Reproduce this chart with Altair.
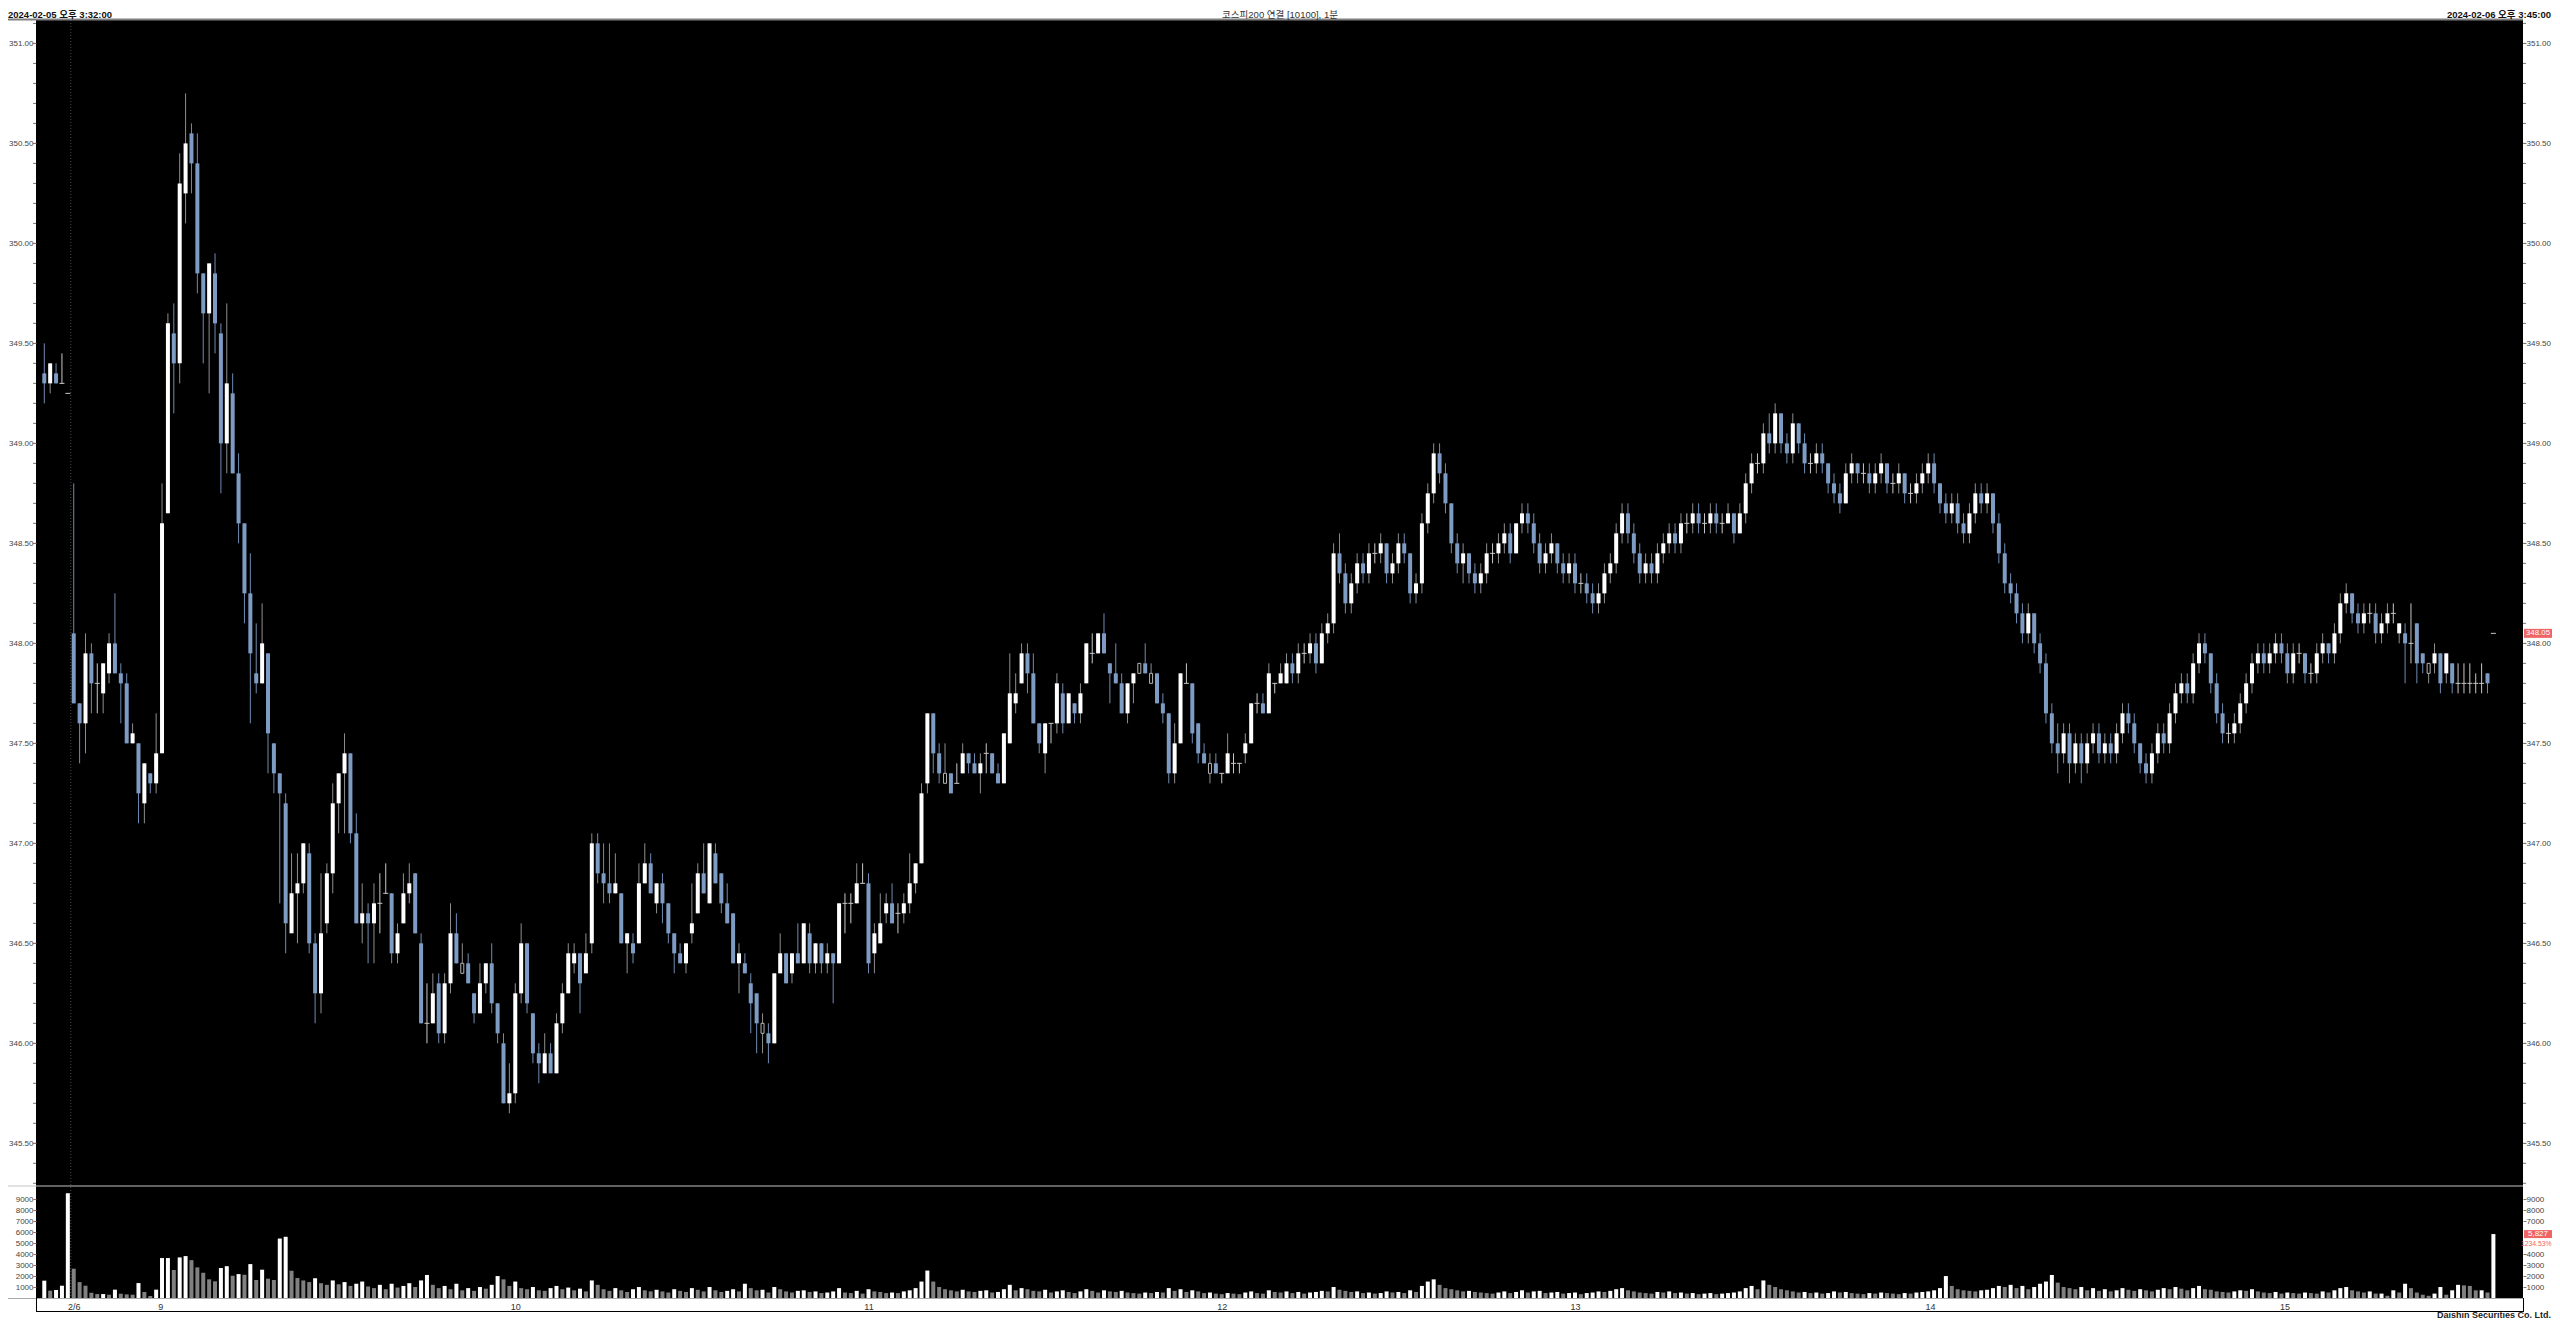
import altair as alt
import pandas as pd

# ---------------- data ----------------
opens = [
    349.35, 349.30, 349.35, 349.30, 349.25, 348.05, 347.70, 347.60, 347.95, 347.80,
    347.75, 347.85, 348.00, 347.85, 347.80, 347.50, 347.50, 347.20, 347.35, 347.30,
    347.45, 348.65, 349.55, 349.40, 350.25, 350.55, 350.40, 349.85, 349.65, 349.85,
    349.55, 349.00, 349.25, 348.85, 348.60, 348.25, 347.85, 347.80, 347.95, 347.50,
    347.35, 347.20, 346.55, 346.75, 346.80, 346.95, 346.50, 346.25, 346.60, 346.85,
    347.20, 347.35, 347.45, 347.05, 346.60, 346.65, 346.60, 346.70, 346.75, 346.75,
    346.45, 346.60, 346.75, 346.85, 346.50, 346.10, 346.10, 346.30, 346.05, 346.30,
    346.55, 346.35, 346.40, 346.25, 346.15, 346.30, 346.40, 346.20, 346.00, 345.70,
    345.75, 346.25, 346.50, 346.15, 345.95, 345.85, 345.95, 345.85, 346.10, 346.25,
    346.40, 346.45, 346.35, 346.50, 347.00, 346.85, 346.80, 346.75, 346.75, 346.50,
    346.50, 346.50, 346.80, 346.90, 346.70, 346.80, 346.70, 346.55, 346.45, 346.40,
    346.55, 346.65, 346.85, 346.70, 346.95, 346.85, 346.70, 346.65, 346.40, 346.40,
    346.30, 346.25, 346.10, 346.05, 346.00, 346.35, 346.45, 346.35, 346.45, 346.40,
    346.55, 346.40, 346.50, 346.40, 346.45, 346.40, 346.70, 346.70, 346.70, 346.80,
    346.80, 346.45, 346.50, 346.65, 346.70, 346.65, 346.65, 346.70, 346.80, 346.90,
    347.30, 347.65, 347.45, 347.35, 347.35, 347.30, 347.35, 347.45, 347.40, 347.35,
    347.45, 347.45, 347.35, 347.30, 347.50, 347.70, 347.80, 347.95, 347.85, 347.60,
    347.45, 347.60, 347.60, 347.75, 347.60, 347.70, 347.65, 347.80, 347.95, 347.95,
    348.05, 347.90, 347.85, 347.80, 347.65, 347.80, 347.85, 347.90, 347.85, 347.85,
    347.70, 347.65, 347.35, 347.50, 347.80, 347.80, 347.60, 347.45, 347.40, 347.40,
    347.35, 347.35, 347.40, 347.40, 347.45, 347.50, 347.70, 347.70, 347.65, 347.80,
    347.80, 347.80, 347.90, 347.85, 347.95, 347.95, 348.00, 347.90, 348.05, 348.10,
    348.45, 348.35, 348.20, 348.30, 348.40, 348.35, 348.45, 348.45, 348.50, 348.35,
    348.40, 348.50, 348.45, 348.25, 348.30, 348.60, 348.75, 348.95, 348.85, 348.70,
    348.50, 348.40, 348.45, 348.35, 348.30, 348.35, 348.45, 348.45, 348.50, 348.55,
    348.45, 348.60, 348.65, 348.60, 348.50, 348.40, 348.45, 348.50, 348.40, 348.35,
    348.40, 348.30, 348.30, 348.25, 348.20, 348.25, 348.35, 348.40, 348.55, 348.65,
    348.55, 348.45, 348.35, 348.40, 348.35, 348.45, 348.50, 348.55, 348.50, 348.60,
    348.60, 348.65, 348.60, 348.60, 348.65, 348.60, 348.60, 348.65, 348.55, 348.65,
    348.80, 348.90, 348.90, 349.05, 349.00, 349.15, 349.00, 348.95, 349.10, 349.00,
    348.90, 348.90, 348.95, 348.90, 348.80, 348.75, 348.70, 348.85, 348.90, 348.85,
    348.85, 348.80, 348.85, 348.90, 348.80, 348.80, 348.85, 348.75, 348.75, 348.80,
    348.85, 348.90, 348.80, 348.70, 348.65, 348.70, 348.60, 348.55, 348.65, 348.75,
    348.70, 348.75, 348.60, 348.45, 348.30, 348.25, 348.15, 348.05, 348.15, 348.00,
    347.90, 347.65, 347.50, 347.45, 347.55, 347.40, 347.50, 347.40, 347.50, 347.55,
    347.45, 347.50, 347.45, 347.55, 347.65, 347.60, 347.50, 347.40, 347.35, 347.45,
    347.55, 347.50, 347.65, 347.75, 347.80, 347.75, 347.90, 348.00, 347.95, 347.80,
    347.65, 347.55, 347.55, 347.60, 347.70, 347.80, 347.90, 347.95, 347.90, 347.95,
    348.00, 347.95, 347.85, 347.95, 347.95, 347.85, 347.85, 347.95, 348.00, 347.95,
    348.05, 348.20, 348.25, 348.15, 348.10, 348.15, 348.15, 348.05, 348.10, 348.15,
    348.05, 348.05, 348.00, 348.10, 347.95, 347.85, 347.90, 347.95, 347.85, 347.90,
    347.80, 347.80, 347.80, 347.80, 347.80, 347.85, 348.05,
]
highs = [
    349.50, 349.40, 349.40, 349.45, 349.25, 348.80, 347.70, 348.05, 348.00, 347.90,
    347.90, 348.05, 348.25, 347.90, 347.85, 347.60, 347.50, 347.40, 347.35, 347.65,
    348.80, 349.65, 349.70, 350.45, 350.75, 350.60, 350.55, 349.85, 349.90, 349.95,
    349.60, 349.70, 349.35, 348.95, 348.60, 348.45, 348.10, 348.20, 347.95, 347.50,
    347.35, 347.25, 346.95, 346.95, 347.00, 347.00, 346.55, 346.85, 346.90, 347.30,
    347.35, 347.55, 347.45, 347.15, 346.80, 346.70, 346.80, 346.85, 346.90, 346.75,
    346.60, 346.85, 346.90, 346.85, 346.55, 346.30, 346.35, 346.35, 346.35, 346.70,
    346.65, 346.50, 346.45, 346.25, 346.40, 346.40, 346.50, 346.20, 346.05, 345.90,
    346.30, 346.60, 346.50, 346.15, 346.00, 346.05, 346.00, 346.15, 346.30, 346.50,
    346.50, 346.45, 346.55, 347.05, 347.05, 347.00, 347.00, 346.95, 346.75, 346.55,
    346.55, 346.90, 347.00, 346.95, 346.80, 346.85, 346.70, 346.55, 346.50, 346.50,
    346.80, 346.90, 347.00, 347.00, 347.00, 346.85, 346.80, 346.65, 346.50, 346.45,
    346.35, 346.25, 346.15, 346.10, 346.35, 346.55, 346.45, 346.45, 346.60, 346.60,
    346.60, 346.50, 346.50, 346.50, 346.45, 346.70, 346.75, 346.75, 346.90, 346.90,
    346.85, 346.60, 346.75, 346.75, 346.80, 346.70, 346.75, 346.95, 346.90, 347.30,
    347.65, 347.65, 347.50, 347.50, 347.35, 347.40, 347.50, 347.45, 347.45, 347.45,
    347.50, 347.45, 347.40, 347.55, 347.95, 347.85, 348.00, 348.00, 347.95, 347.60,
    347.60, 347.60, 347.85, 347.80, 347.75, 347.70, 347.80, 348.00, 348.05, 348.05,
    348.15, 347.90, 348.00, 347.85, 347.80, 347.85, 347.90, 348.00, 347.90, 347.85,
    347.75, 347.65, 347.60, 347.85, 347.90, 347.80, 347.60, 347.50, 347.45, 347.45,
    347.35, 347.55, 347.45, 347.40, 347.55, 347.70, 347.75, 347.75, 347.90, 347.80,
    347.90, 347.95, 347.95, 348.00, 348.00, 348.05, 348.05, 348.10, 348.15, 348.50,
    348.55, 348.40, 348.35, 348.45, 348.45, 348.50, 348.50, 348.55, 348.50, 348.45,
    348.55, 348.55, 348.45, 348.35, 348.65, 348.80, 349.00, 349.00, 348.90, 348.70,
    348.55, 348.50, 348.45, 348.40, 348.40, 348.50, 348.50, 348.55, 348.60, 348.60,
    348.60, 348.70, 348.70, 348.65, 348.55, 348.50, 348.55, 348.50, 348.45, 348.45,
    348.45, 348.35, 348.35, 348.30, 348.30, 348.40, 348.45, 348.60, 348.70, 348.70,
    348.60, 348.50, 348.45, 348.45, 348.50, 348.55, 348.60, 348.60, 348.65, 348.65,
    348.70, 348.70, 348.65, 348.70, 348.70, 348.65, 348.70, 348.65, 348.70, 348.85,
    348.95, 348.95, 349.10, 349.15, 349.20, 349.15, 349.05, 349.15, 349.10, 349.05,
    348.95, 349.00, 349.00, 348.90, 348.85, 348.80, 348.90, 348.95, 348.90, 348.90,
    348.90, 348.90, 348.95, 348.90, 348.85, 348.90, 348.85, 348.80, 348.85, 348.90,
    348.95, 348.95, 348.80, 348.75, 348.75, 348.75, 348.65, 348.70, 348.80, 348.80,
    348.80, 348.75, 348.65, 348.50, 348.35, 348.30, 348.20, 348.20, 348.15, 348.05,
    347.95, 347.70, 347.60, 347.60, 347.60, 347.55, 347.55, 347.55, 347.60, 347.60,
    347.55, 347.55, 347.60, 347.70, 347.70, 347.65, 347.50, 347.45, 347.50, 347.60,
    347.60, 347.70, 347.80, 347.85, 347.85, 347.95, 348.05, 348.05, 347.95, 347.85,
    347.70, 347.60, 347.65, 347.75, 347.85, 347.95, 348.00, 348.00, 348.00, 348.05,
    348.05, 348.00, 348.00, 348.00, 347.95, 347.90, 348.00, 348.05, 348.00, 348.10,
    348.25, 348.30, 348.25, 348.20, 348.20, 348.20, 348.20, 348.15, 348.20, 348.20,
    348.10, 348.10, 348.20, 348.10, 347.95, 347.90, 348.00, 347.95, 347.95, 347.90,
    347.90, 347.90, 347.90, 347.85, 347.90, 347.85, 348.05,
]
lows = [
    349.20, 349.25, 349.30, 349.30, 349.25, 347.70, 347.40, 347.45, 347.65, 347.65,
    347.65, 347.80, 347.85, 347.60, 347.50, 347.50, 347.10, 347.10, 347.25, 347.25,
    347.45, 348.65, 349.15, 349.30, 350.10, 350.25, 349.75, 349.40, 349.25, 349.45,
    348.75, 348.85, 348.85, 348.50, 348.10, 347.60, 347.75, 347.80, 347.35, 347.25,
    346.70, 346.45, 346.55, 346.50, 346.75, 346.45, 346.10, 346.15, 346.55, 346.75,
    347.05, 347.05, 347.00, 346.60, 346.50, 346.40, 346.40, 346.55, 346.75, 346.40,
    346.40, 346.60, 346.70, 346.55, 346.10, 346.00, 346.10, 346.00, 346.00, 346.25,
    346.40, 346.35, 346.30, 346.10, 346.15, 346.25, 346.15, 346.00, 345.70, 345.65,
    345.70, 346.20, 346.15, 345.90, 345.80, 345.85, 345.85, 345.85, 346.05, 346.25,
    346.35, 346.15, 346.35, 346.45, 346.80, 346.70, 346.70, 346.75, 346.50, 346.35,
    346.40, 346.50, 346.80, 346.75, 346.65, 346.60, 346.50, 346.35, 346.40, 346.35,
    346.50, 346.65, 346.75, 346.70, 346.80, 346.65, 346.60, 346.40, 346.25, 346.35,
    346.05, 345.95, 345.95, 345.90, 346.00, 346.35, 346.30, 346.30, 346.40, 346.40,
    346.35, 346.35, 346.35, 346.35, 346.20, 346.40, 346.55, 346.60, 346.70, 346.80,
    346.35, 346.35, 346.50, 346.60, 346.60, 346.55, 346.60, 346.65, 346.75, 346.90,
    347.25, 347.35, 347.30, 347.30, 347.25, 347.30, 347.35, 347.35, 347.35, 347.25,
    347.35, 347.35, 347.30, 347.30, 347.50, 347.65, 347.80, 347.75, 347.60, 347.45,
    347.35, 347.50, 347.55, 347.55, 347.60, 347.60, 347.60, 347.80, 347.90, 347.95,
    347.95, 347.70, 347.80, 347.65, 347.60, 347.70, 347.85, 347.85, 347.80, 347.70,
    347.60, 347.30, 347.30, 347.50, 347.80, 347.50, 347.40, 347.40, 347.30, 347.35,
    347.30, 347.35, 347.35, 347.35, 347.40, 347.50, 347.65, 347.65, 347.65, 347.75,
    347.80, 347.80, 347.80, 347.80, 347.90, 347.90, 347.85, 347.90, 348.00, 348.05,
    348.30, 348.15, 348.15, 348.25, 348.30, 348.30, 348.40, 348.40, 348.30, 348.30,
    348.35, 348.40, 348.20, 348.20, 348.25, 348.55, 348.70, 348.80, 348.65, 348.45,
    348.35, 348.30, 348.30, 348.25, 348.25, 348.30, 348.40, 348.40, 348.45, 348.40,
    348.45, 348.55, 348.55, 348.45, 348.35, 348.35, 348.40, 348.35, 348.30, 348.30,
    348.25, 348.25, 348.20, 348.15, 348.15, 348.20, 348.30, 348.35, 348.50, 348.50,
    348.40, 348.30, 348.30, 348.30, 348.30, 348.40, 348.45, 348.45, 348.45, 348.55,
    348.55, 348.55, 348.55, 348.55, 348.55, 348.55, 348.60, 348.50, 348.55, 348.60,
    348.75, 348.85, 348.85, 348.95, 348.95, 348.95, 348.90, 348.90, 348.95, 348.85,
    348.85, 348.85, 348.85, 348.75, 348.70, 348.65, 348.70, 348.80, 348.80, 348.80,
    348.75, 348.75, 348.80, 348.75, 348.75, 348.75, 348.70, 348.70, 348.70, 348.75,
    348.80, 348.75, 348.65, 348.60, 348.60, 348.55, 348.50, 348.50, 348.60, 348.65,
    348.65, 348.55, 348.40, 348.25, 348.20, 348.10, 348.00, 348.00, 347.95, 347.85,
    347.60, 347.45, 347.35, 347.40, 347.30, 347.35, 347.30, 347.35, 347.45, 347.40,
    347.40, 347.40, 347.40, 347.50, 347.55, 347.45, 347.35, 347.30, 347.30, 347.40,
    347.45, 347.45, 347.60, 347.70, 347.70, 347.70, 347.85, 347.90, 347.75, 347.60,
    347.50, 347.50, 347.50, 347.55, 347.65, 347.75, 347.85, 347.85, 347.85, 347.90,
    347.90, 347.80, 347.80, 347.90, 347.80, 347.80, 347.80, 347.90, 347.90, 347.90,
    348.00, 348.15, 348.10, 348.05, 348.05, 348.10, 348.00, 348.00, 348.05, 348.10,
    348.00, 347.80, 347.90, 347.80, 347.85, 347.80, 347.85, 347.75, 347.80, 347.75,
    347.75, 347.75, 347.75, 347.75, 347.75, 347.75, 348.05,
]
closes = [
    349.30, 349.40, 349.30, 349.30, 349.25, 347.70, 347.60, 347.95, 347.80, 347.80,
    347.90, 348.00, 347.85, 347.80, 347.50, 347.55, 347.25, 347.40, 347.30, 347.45,
    348.60, 349.60, 349.40, 350.30, 350.50, 350.40, 349.85, 349.65, 349.90, 349.60,
    349.00, 349.30, 348.85, 348.60, 348.25, 347.95, 347.80, 348.00, 347.55, 347.35,
    347.25, 346.60, 346.75, 346.80, 347.00, 346.50, 346.25, 346.55, 346.85, 347.20,
    347.35, 347.45, 347.05, 346.60, 346.65, 346.60, 346.70, 346.70, 346.75, 346.45,
    346.55, 346.75, 346.80, 346.55, 346.10, 346.10, 346.25, 346.05, 346.30, 346.55,
    346.40, 346.40, 346.30, 346.15, 346.30, 346.40, 346.20, 346.05, 345.70, 345.75,
    346.25, 346.50, 346.20, 345.95, 345.90, 345.95, 345.85, 346.10, 346.25, 346.45,
    346.45, 346.30, 346.45, 347.00, 346.85, 346.80, 346.75, 346.80, 346.50, 346.55,
    346.45, 346.80, 346.90, 346.75, 346.80, 346.70, 346.55, 346.45, 346.40, 346.50,
    346.60, 346.85, 346.75, 347.00, 346.80, 346.70, 346.60, 346.40, 346.45, 346.35,
    346.20, 346.10, 346.05, 346.00, 346.35, 346.45, 346.30, 346.45, 346.40, 346.60,
    346.40, 346.50, 346.40, 346.45, 346.40, 346.70, 346.70, 346.70, 346.80, 346.80,
    346.40, 346.55, 346.60, 346.70, 346.60, 346.65, 346.70, 346.80, 346.90, 347.25,
    347.65, 347.45, 347.35, 347.30, 347.25, 347.30, 347.45, 347.40, 347.35, 347.40,
    347.45, 347.35, 347.30, 347.55, 347.75, 347.75, 347.95, 347.85, 347.60, 347.50,
    347.60, 347.60, 347.80, 347.60, 347.75, 347.65, 347.75, 348.00, 347.95, 348.05,
    347.95, 347.85, 347.80, 347.65, 347.80, 347.85, 347.90, 347.85, 347.80, 347.70,
    347.65, 347.35, 347.50, 347.85, 347.80, 347.55, 347.45, 347.40, 347.35, 347.35,
    347.35, 347.45, 347.40, 347.40, 347.50, 347.70, 347.70, 347.65, 347.85, 347.80,
    347.85, 347.90, 347.85, 347.95, 347.95, 348.00, 347.90, 348.05, 348.10, 348.45,
    348.35, 348.20, 348.30, 348.40, 348.35, 348.45, 348.45, 348.50, 348.35, 348.40,
    348.50, 348.45, 348.25, 348.30, 348.60, 348.75, 348.95, 348.85, 348.70, 348.50,
    348.40, 348.45, 348.35, 348.30, 348.35, 348.45, 348.45, 348.50, 348.55, 348.45,
    348.60, 348.65, 348.60, 348.50, 348.40, 348.45, 348.50, 348.40, 348.35, 348.40,
    348.30, 348.30, 348.25, 348.20, 348.25, 348.35, 348.40, 348.55, 348.65, 348.55,
    348.45, 348.35, 348.40, 348.35, 348.45, 348.50, 348.55, 348.50, 348.60, 348.60,
    348.65, 348.60, 348.60, 348.65, 348.60, 348.60, 348.65, 348.55, 348.65, 348.80,
    348.90, 348.90, 349.05, 349.00, 349.15, 349.00, 348.95, 349.10, 349.00, 348.90,
    348.90, 348.95, 348.90, 348.80, 348.75, 348.70, 348.85, 348.90, 348.85, 348.85,
    348.80, 348.85, 348.90, 348.80, 348.80, 348.85, 348.75, 348.75, 348.80, 348.85,
    348.90, 348.80, 348.70, 348.65, 348.70, 348.60, 348.55, 348.65, 348.75, 348.70,
    348.75, 348.60, 348.45, 348.30, 348.25, 348.15, 348.05, 348.15, 348.00, 347.90,
    347.65, 347.50, 347.45, 347.55, 347.40, 347.50, 347.40, 347.50, 347.55, 347.45,
    347.50, 347.45, 347.55, 347.65, 347.60, 347.50, 347.40, 347.35, 347.45, 347.55,
    347.50, 347.65, 347.75, 347.80, 347.75, 347.90, 348.00, 347.95, 347.80, 347.65,
    347.55, 347.55, 347.60, 347.70, 347.80, 347.90, 347.95, 347.90, 347.95, 348.00,
    347.95, 347.85, 347.95, 347.95, 347.85, 347.85, 347.95, 348.00, 347.95, 348.05,
    348.20, 348.25, 348.15, 348.10, 348.15, 348.15, 348.05, 348.10, 348.15, 348.15,
    348.10, 348.00, 348.00, 347.90, 347.90, 347.90, 347.95, 347.80, 347.95, 347.80,
    347.80, 347.80, 347.80, 347.80, 347.80, 347.80, 348.05,
]
hollow_bars = [71, 122, 153, 186, 188, 198, 405]

volumes = [
    1580, 670, 730, 1120, 9550, 2670, 1450, 1120, 480, 360,
    360, 300, 760, 390, 330, 300, 1360, 550, 180, 760,
    3640, 3640, 2550, 3700, 3820, 3450, 2790, 2300, 1700, 1520,
    2730, 2900, 2030, 2180, 2120, 3090, 1640, 2580, 1760, 1640,
    5420, 5580, 2480, 1820, 1600, 1450, 1800, 1350, 1200, 1600,
    1250, 1450, 1100, 1300, 1500, 1050, 900, 1200, 800, 1300,
    950, 1100, 1350, 1000, 1600, 2100, 1200, 900, 1100, 800,
    1300, 700, 900, 650, 1000, 850, 1200, 2000, 1700, 1100,
    1500, 900, 800, 1000, 700, 650, 900, 1100, 800, 950,
    700, 850, 600, 1600, 1200, 800, 650, 900, 700, 550,
    800, 1000, 700, 600, 750, 600, 500, 800, 650, 550,
    900, 750, 600, 1000, 700, 550, 650, 800, 600, 1300,
    900, 700, 750, 500, 1000, 800, 600, 500, 650, 700,
    550, 600, 450, 500, 600, 900, 500, 450, 650, 400,
    800, 600, 550, 450, 500, 450, 600, 700, 900, 1500,
    2500, 1500, 1000, 800, 700, 600, 750, 600, 550, 650,
    700, 500, 550, 800, 1200, 700, 900, 800, 650, 600,
    750, 500, 600, 700, 550, 450, 600, 800, 650, 500,
    700, 600, 550, 650, 500, 450, 400, 500, 450, 550,
    500, 900, 650, 800, 550, 700, 600, 450, 500, 400,
    350, 450, 400, 350, 500, 600, 450, 400, 700, 550,
    500, 600, 450, 550, 400, 500, 550, 650, 600, 1000,
    750, 650, 550, 600, 450, 500, 400, 450, 600, 500,
    550, 450, 700, 550, 1100, 1500, 1700, 1200, 900, 800,
    700, 600, 650, 550, 500, 450, 400, 500, 600, 450,
    550, 700, 500, 600, 650, 450, 500, 550, 400, 450,
    500, 350, 450, 500, 600, 550, 650, 800, 900, 700,
    600, 500, 450, 400, 550, 500, 600, 450, 500, 400,
    450, 350, 400, 450, 350, 400, 450, 500, 600, 900,
    1100, 800, 1600, 1200, 1000, 800, 700, 600, 500, 550,
    450, 500, 400, 450, 600, 500, 550, 450, 400, 350,
    450, 400, 500, 450, 400, 350, 450, 400, 500, 550,
    600, 700, 900, 2000, 1100, 800, 700, 650, 600, 700,
    750, 900, 1100, 1000, 1200, 900, 1100, 800, 1000, 1300,
    1500, 2100, 1400, 1000, 900, 800, 1000, 700, 900, 650,
    800, 600, 700, 900, 750, 650, 800, 700, 600, 750,
    900, 800, 1000, 850, 700, 900, 1100, 800, 750, 600,
    550, 500, 600, 700, 650, 800, 600, 500, 450, 550,
    400, 500, 450, 400, 500, 450, 400, 600, 500, 700,
    900, 1000, 700, 600, 500, 600, 400, 400, 200, 700,
    500, 1300, 900, 500, 300, 200, 400, 1000, 300, 700,
    1200, 1150, 1100, 700, 700, 500, 5827,
]

day_break = [4.5]
x_tick_pos = [5, 19.7, 80, 140, 200, 260, 320.3, 380.5]
x_tick_text = ["2/6", "9", "10", "11", "12", "13", "14", "15"]
price_ticks = [345.5, 346.0, 346.5, 347.0, 347.5, 348.0, 348.5, 349.0, 349.5, 350.0, 350.5, 351.0]
vol_ticks_left = [1000, 2000, 3000, 4000, 5000, 6000, 7000, 8000, 9000]
vol_ticks_right = [1000, 2000, 3000, 4000, 7000, 8000, 9000]
minor_ticks = [round(345.3 + 0.1 * k, 2) for k in range(59)]

title_left = "2024-02-05 오후 3:32:00"
title_mid = "코스피200 연결 [10100], 1분"
title_right = "2024-02-06 오후 3:45:00"
footer = "Daishin Securities Co. Ltd."
vol_change_text = "1234.53%"

# ---------------- colours / layout ----------------
UP = "#ffffff"
DOWN = "#7d9bc3"
UP_WICK = "#8e8e8e"
DOWN_WICK = "#6f8bb2"
FLAT = "#c8c8c8"
VOL_UP = "#ffffff"
VOL_DOWN = "#808080"
RED = "#f06464"
FONT = "Liberation Sans"
HFONT = "Liberation Sans, Noto Sans CJK KR"

W = 2487          # plot width (page x 36 .. 2523)
H = 1278          # plot height (page y 20 .. 1298)
PH = 1166         # price pane height

# ---------------- frames ----------------
bar_index = list(range(len(opens)))
kinds, wcol, bcol = [], [], []
for i, o, c in zip(bar_index, opens, closes):
    if i in hollow_bars:
        kd = "hollow"
    elif c > o:
        kd = "up"
    elif c < o:
        kd = "down"
    else:
        kd = "flat"
    kinds.append(kd)
    wcol.append({"up": UP_WICK, "down": DOWN_WICK, "flat": FLAT, "hollow": UP_WICK}[kd])
    bcol.append({"up": UP, "down": DOWN, "flat": FLAT, "hollow": "#000000"}[kd])

df = pd.DataFrame({"i": bar_index, "o": opens, "h": highs, "l": lows, "c": closes,
                   "kind": kinds, "wc": wcol, "bc": bcol})

vcol = []
prev = None
for v in volumes:
    vcol.append(VOL_UP if (prev is None or v >= prev) else VOL_DOWN)
    prev = v
vdf = pd.DataFrame({"i": list(range(len(volumes))), "v": volumes, "vc": vcol})

last_df = pd.DataFrame({"p": [closes[-1]], "t": [f"{closes[-1]:.2f}"]})
last_vol_df = pd.DataFrame({"v": [volumes[-1]], "t": [f"{volumes[-1]:,}"]})
minor_df = pd.DataFrame({"p": minor_ticks})
brk_df = pd.DataFrame({"i": day_break})
one = pd.DataFrame({"a": [0]})

# ---------------- scales / axes ----------------
xs = alt.Scale(domain=[-0.558, 420.18], nice=False, zero=False)
ps = alt.Scale(domain=[345.2865, 351.117], range=[PH, 0], nice=False, zero=False)
vs = alt.Scale(domain=[0, 10209], range=[H, PH], nice=False, zero=True)

label_expr = "[" + ",".join(f"'{t}'" for t in x_tick_text) + "][indexof([" + \
    ",".join(str(p) for p in x_tick_pos) + "], datum.value)]"
xaxis = alt.Axis(values=x_tick_pos, labelExpr=label_expr, orient="bottom", tickSize=0,
                 domain=False, grid=False, labelFont=FONT, labelFontSize=9,
                 labelColor="#333333", labelPadding=4, title=None,
                 labelFlush=False, labelOverlap=False)
X = alt.X("i:Q", scale=xs, axis=xaxis)


def yaxis(orient, values, fmt):
    return alt.Axis(orient=orient, values=values, format=fmt, tickSize=3, tickColor="#777777",
                    labelColor="#444444", labelFont=FONT, labelFontSize=8, labelPadding=0,
                    domain=False, grid=False, title=None, labelOverlap=False, labelFlush=False)


# ---------------- layers ----------------
wick = alt.Chart(df).mark_rule(strokeWidth=1).encode(
    x=X, y=alt.Y("l:Q", scale=ps, axis=yaxis("left", price_ticks, ".2f")), y2="h:Q",
    color=alt.Color("wc:N", scale=None))

body = alt.Chart(df).transform_filter("datum.kind=='up' || datum.kind=='down'").mark_bar(
    size=4).encode(
    x=X, y=alt.Y("o:Q", scale=ps, axis=yaxis("right", price_ticks, ".2f")), y2="c:Q",
    color=alt.Color("bc:N", scale=None))

hollow = alt.Chart(df).transform_filter("datum.kind=='hollow'").mark_bar(
    size=3, fill="#000000", stroke="#b4b4b4", strokeWidth=1).encode(
    x=X, y=alt.Y("o:Q", scale=ps, axis=None), y2="c:Q")

flat = alt.Chart(df).transform_filter("datum.kind=='flat'").mark_tick(
    orient="horizontal", size=5, thickness=1, color=FLAT, opacity=1).encode(
    x=X, y=alt.Y("c:Q", scale=ps, axis=None))

minor_l = alt.Chart(minor_df).mark_rule(color="#777777", strokeWidth=1).encode(
    x=alt.value(-3), x2=alt.value(0), y=alt.Y("p:Q", scale=ps, axis=None))
minor_r = alt.Chart(minor_df).mark_rule(color="#777777", strokeWidth=1).encode(
    x=alt.value(W), x2=alt.value(W + 3), y=alt.Y("p:Q", scale=ps, axis=None))

vol = alt.Chart(vdf).mark_bar(size=4).encode(
    x=X, y=alt.Y("v:Q", scale=vs, axis=yaxis("left", vol_ticks_left, "d")),
    color=alt.Color("vc:N", scale=None))
vol_r = alt.Chart(vdf).mark_bar(size=4, opacity=0).encode(
    x=X, y=alt.Y("v:Q", scale=vs, axis=yaxis("right", vol_ticks_right, "d")))

brk = alt.Chart(brk_df).mark_rule(color="#4a4a4a", strokeWidth=1, strokeDash=[1, 2]).encode(
    x=X, y=alt.value(0), y2=alt.value(H))


def hrule(x1, x2, y, color, w=1):
    return alt.Chart(one).mark_rule(color=color, strokeWidth=w).encode(
        x=alt.value(x1), x2=alt.value(x2), y=alt.value(y))


def vrule(x, y1, y2, color, w=1):
    return alt.Chart(one).mark_rule(color=color, strokeWidth=w).encode(
        x=alt.value(x), y=alt.value(y1), y2=alt.value(y2))


lines = [
    hrule(-28, W, -0.5, "#808080", 2),
    hrule(-28, W, PH, "#c4c4c4", 1),
    hrule(-28, W, H + 0.5, "#a8a8a8", 1),
    hrule(0, W, H + 13.5, "#000000", 1),
    vrule(0.5, H, H + 14, "#000000", 1),
    vrule(W + 0.5, H, H + 14, "#000000", 1),
]


def text(s, x, y, align, size=10, weight="normal", color="#222222", font=HFONT,
         baseline="middle"):
    return alt.Chart(one).mark_text(text=s, align=align, baseline=baseline, fontSize=size,
                                    fontWeight=weight, color=color, font=font).encode(
        x=alt.value(x), y=alt.value(y))


texts = [
    text(title_left, -28, -5.5, "left", 9.5, "bold", "#111111"),
    text(title_mid, 1244, -5.5, "center", 9.5, "normal", "#333333"),
    text(title_right, W + 28, -5.5, "right", 9.5, "bold", "#111111"),
    text(footer, W + 28, 1297.5, "right", 9, "bold", "#222222", FONT, "alphabetic"),
]

price_box = alt.Chart(last_df).mark_tick(orient="horizontal", size=28, thickness=9,
                                         color=RED, opacity=1).encode(
    x=alt.value(W + 15), y=alt.Y("p:Q", scale=ps, axis=None))
price_txt = alt.Chart(last_df).mark_text(align="center", baseline="middle", fontSize=8,
                                         color="#ffffff", font=FONT).encode(
    x=alt.value(W + 15), y=alt.Y("p:Q", scale=ps, axis=None), text="t:N")

vol_box = alt.Chart(last_vol_df).mark_tick(orient="horizontal", size=28, thickness=8,
                                           color=RED, opacity=1).encode(
    x=alt.value(W + 15), y=alt.Y("v:Q", scale=vs, axis=None))
vol_txt = alt.Chart(last_vol_df).mark_text(align="center", baseline="middle", fontSize=8,
                                           color="#ffffff", font=FONT).encode(
    x=alt.value(W + 15), y=alt.Y("v:Q", scale=vs, axis=None), text="t:N")
pct_txt = text(vol_change_text, W - 2, 1224, "left", 6.8, "normal", RED, FONT)

chart = alt.layer(
    brk, wick, body, hollow, flat, vol, vol_r, minor_l, minor_r,
    *lines, *texts, price_box, price_txt, vol_box, vol_txt, pct_txt
).resolve_scale(y="independent").properties(
    width=W, height=H,
    padding={"left": 28, "top": 12, "right": 29, "bottom": 22},
    autosize=alt.AutoSizeParams(type="none"),
    background="#ffffff",
).configure_view(fill="#000000", stroke=None)

chart.save("out.html", embed_options={"renderer": "svg", "actions": False})
